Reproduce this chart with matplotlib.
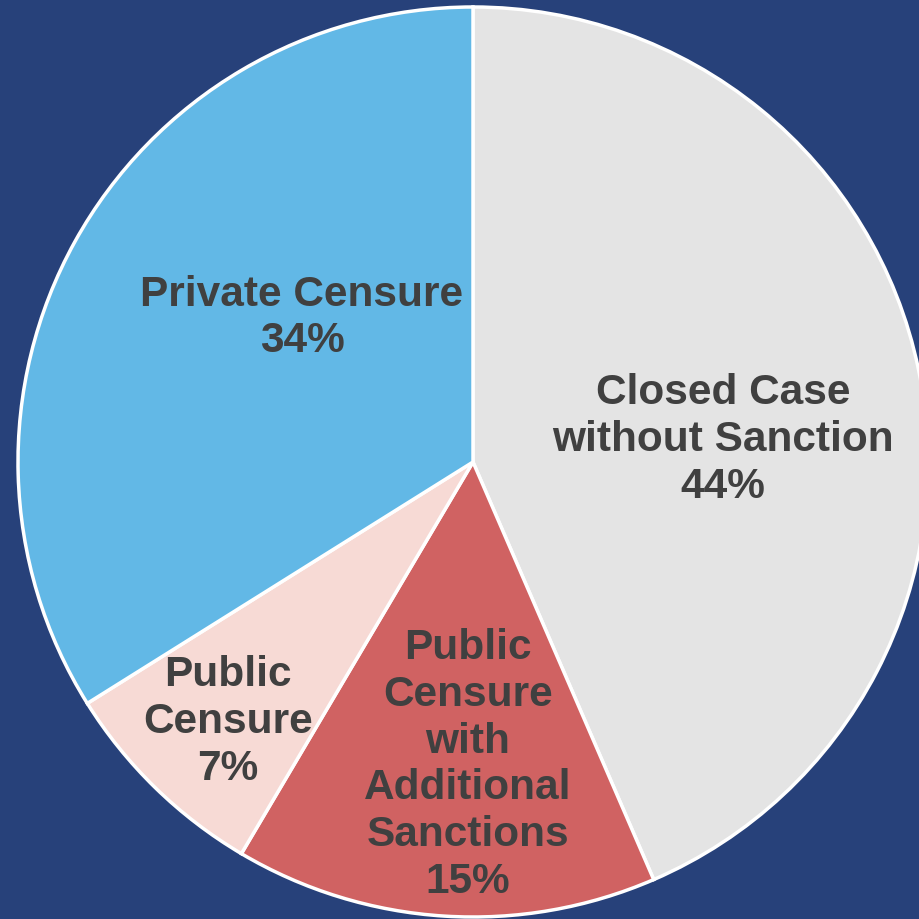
import matplotlib
matplotlib.use("Agg")
import matplotlib.pyplot as plt

labels = ["Closed Case\nwithout Sanction", "Public\nCensure\nwith\nAdditional\nSanctions",
          "Public\nCensure", "Private Censure"]
shares = [43.5, 15.0, 7.6, 33.9]
pct_text = ["44%", "15%", "7%", "34%"]
colors = ["#E4E4E4", "#D06262", "#F7DAD5", "#62B8E6"]
# label centres in pixels of the 920x920 picture
label_px = [(723, 440), (468, 765), (228, 722), (302, 318)]

W = 920
cx, cy, R = 473, 463, 455

fig = plt.figure(figsize=(9.2, 9.2), dpi=100)
fig.patch.set_facecolor("#27417A")
ax = fig.add_axes([0, 0, 1, 1])
ax.set_facecolor("#27417A")

ax.pie(shares, colors=colors, startangle=90, counterclock=False, radius=1,
       wedgeprops=dict(edgecolor="white", linewidth=2.5))

ax.set_xlim(-cx / R, (W - cx) / R)
ax.set_ylim(-(W - cy) / R, cy / R)
ax.set_aspect("equal")
ax.axis("off")

for lab, p, (px, py) in zip(labels, pct_text, label_px):
    ax.text((px - cx) / R, (cy - py) / R, f"{lab}\n{p}", ha="center", va="center",
            fontsize=30.5, fontweight="bold", color="#404040",
            family=["Liberation Sans", "DejaVu Sans"], linespacing=1.22)

fig.savefig("out.png", dpi=100, facecolor=fig.get_facecolor())
